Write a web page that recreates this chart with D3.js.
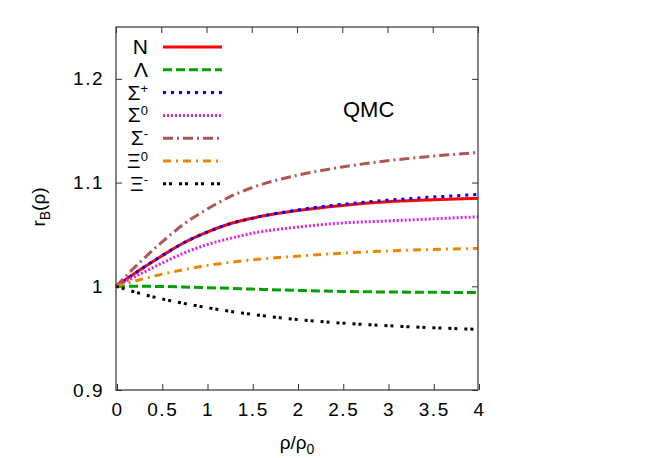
<!DOCTYPE html>
<html>
<head>
<meta charset="utf-8">
<script src="https://cdn.jsdelivr.net/npm/d3@7"></script>
<style>
  body { margin: 0; background: #fff; }
  text { font-family: "Liberation Sans", Arial, sans-serif; fill: #000; }
</style>
</head>
<body>
<div id="chart"></div>
<script>
// density points rho/rho0
const densities = [0, 0.25, 0.5, 0.75, 1, 1.25, 1.5, 2, 2.5, 3, 3.5, 4]

// r_B values
const rN      = [1.000, 1.015, 1.029, 1.042, 1.052, 1.060, 1.0655, 1.0730, 1.0780, 1.0815, 1.0835, 1.085]
const rLambda = [1.000, 1.000, 0.9998, 0.9993, 0.9987, 0.998, 0.9973, 0.996, 0.995, 0.9945, 0.9942, 0.994]
const rSigmaP = [1.000, 1.015, 1.029, 1.042, 1.052, 1.060, 1.0655, 1.0735, 1.079, 1.083, 1.086, 1.0885]
const rSigma0 = [1.000, 1.011, 1.022, 1.032, 1.040, 1.046, 1.051, 1.057, 1.061, 1.063, 1.065, 1.067]
const rSigmaM = [1.000, 1.022, 1.042, 1.060, 1.074, 1.086, 1.095, 1.107, 1.115, 1.121, 1.1255, 1.129]
const rXi0    = [1.000, 1.006, 1.0115, 1.016, 1.020, 1.023, 1.0255, 1.029, 1.032, 1.034, 1.0355, 1.0365]
const rXiM    = [1.000, 0.9935, 0.988, 0.9835, 0.9795, 0.976, 0.973, 0.968, 0.9645, 0.962, 0.960, 0.9585]

const xTicks = [0, 0.5, 1, 1.5, 2, 2.5, 3, 3.5, 4]
const yTicks = [0.9, 1.0, 1.1, 1.2]

const width = 654
const height = 458
const plotLeft = 116
const plotRight = 478
const plotTop = 27
const plotBottom = 390

const svg = d3.select("#chart")
  .append("svg")
  .attr("width", width)
  .attr("height", height)

const xScale = d3.scaleLinear().domain([0, 4]).range([plotLeft, plotRight])
const yScale = d3.scaleLinear().domain([0.9, 1.25]).range([plotBottom, plotTop])

// axes, ticks point inward
const xAxis = d3.axisBottom(xScale).tickValues(xTicks).tickSize(-6).tickPadding(13)
  .tickFormat(d3.format("~g"))
const yAxis = d3.axisLeft(yScale).tickValues(yTicks).tickSize(-6).tickPadding(12)
  .tickFormat(d => d === 1 ? "1" : d3.format(".1f")(d))

function styleAxis(g) {
  g.select(".domain").remove()
  g.selectAll(".tick line").attr("stroke", "#333")
  g.selectAll("text").attr("font-size", 19).attr("fill", "#000")
    .attr("letter-spacing", "1.5px")
}

svg.append("g")
  .attr("transform", "translate(1," + plotBottom + ")")
  .call(xAxis)
  .call(styleAxis)

svg.append("g")
  .attr("transform", "translate(" + plotLeft + ",0)")
  .call(yAxis)
  .call(styleAxis)

// mirror ticks on top and right
svg.append("g")
  .attr("transform", "translate(0," + plotTop + ")")
  .call(d3.axisTop(xScale).tickValues(xTicks).tickSize(-6).tickFormat(""))
  .call(styleAxis)

svg.append("g")
  .attr("transform", "translate(" + plotRight + ",0)")
  .call(d3.axisRight(yScale).tickValues(yTicks).tickSize(-6).tickFormat(""))
  .call(styleAxis)

// series
const series = [
  { name: "N", sup: "", values: rN, color: "#ff0000", dash: null },
  { name: "Λ", sup: "", values: rLambda, color: "#00a000", dash: "9,4" },
  { name: "Σ", sup: "+", values: rSigmaP, color: "#0000ff", dash: "3,5" },
  { name: "Σ", sup: "0", values: rSigma0, color: "#e020e0", dash: "2,2" },
  { name: "Σ", sup: "-", values: rSigmaM, color: "#b05555", dash: "10,4,2,4" },
  { name: "Ξ", sup: "0", values: rXi0, color: "#ec8600", dash: "8,5,2,5" },
  { name: "Ξ", sup: "-", values: rXiM, color: "#000000", dash: "3,3,3,7" }
]

const line = d3.line()
  .x((d, i) => xScale(densities[i]))
  .y(d => yScale(d))
  .curve(d3.curveMonotoneX)

const plot = svg.append("g")

series.forEach(function(s) {
  plot.append("path")
    .datum(s.values)
    .attr("d", line)
    .attr("fill", "none")
    .attr("stroke", s.color)
    .attr("stroke-width", 3)
    .attr("stroke-dasharray", s.dash)
})

// frame
svg.append("rect")
  .attr("x", plotLeft)
  .attr("y", plotTop)
  .attr("width", plotRight - plotLeft)
  .attr("height", plotBottom - plotTop)
  .attr("fill", "none")
  .attr("stroke", "#333")
  .attr("stroke-width", 1.2)

// legend
const legend = svg.append("g")
series.forEach(function(s, i) {
  const y = 47 + i * 22.8
  const t = legend.append("text")
    .attr("x", 148)
    .attr("y", y + 7)
    .attr("text-anchor", "end")
    .attr("font-size", 21)
  t.append("tspan").text(s.name)
  if (s.sup) {
    t.append("tspan")
      .attr("font-size", 13)
      .attr("dy", -7)
      .text(s.sup)
  }
  legend.append("line")
    .attr("x1", 163)
    .attr("x2", 222)
    .attr("y1", y)
    .attr("y2", y)
    .attr("stroke", s.color)
    .attr("stroke-width", 3)
    .attr("stroke-dasharray", s.dash)
})

// label inside plot
svg.append("text")
  .attr("x", 343)
  .attr("y", 117)
  .attr("font-size", 22)
  .text("QMC")

// axis titles
const xTitle = svg.append("text")
  .attr("x", 297)
  .attr("y", 449)
  .attr("text-anchor", "middle")
  .attr("font-size", 19)
xTitle.append("tspan").text("ρ/ρ")
xTitle.append("tspan").attr("font-size", 14).attr("dy", 5).text("0")

const yTitle = svg.append("text")
  .attr("transform", "translate(45,207)rotate(-90)")
  .attr("text-anchor", "middle")
  .attr("font-size", 19)
yTitle.append("tspan").text("r")
yTitle.append("tspan").attr("font-size", 14).attr("dy", 5).text("B")
yTitle.append("tspan").attr("dy", -5).text("(ρ)")
</script>
</body>
</html>
